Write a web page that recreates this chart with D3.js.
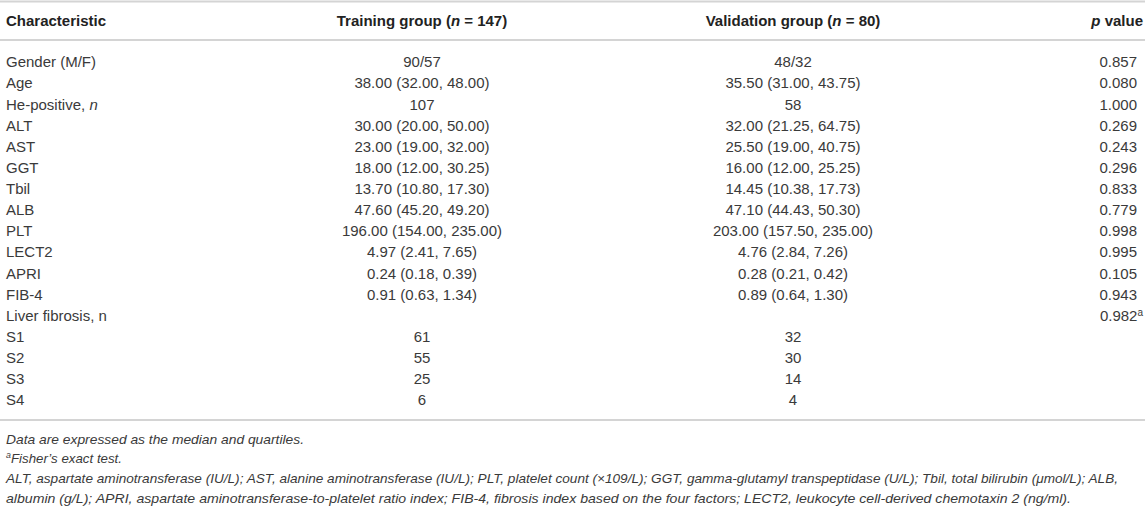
<!DOCTYPE html>
<html><head><meta charset="utf-8">
<script src="https://cdn.jsdelivr.net/npm/d3@7"></script>
<style>
html,body{margin:0;padding:0;background:#fff;}
svg text{font-family:"Liberation Sans",Arial,Helvetica,sans-serif;}
</style></head>
<body>
<svg id="t" width="1145" height="507"></svg>
<script>
const characteristics = ["Gender (M/F)","Age","He-positive, |n","ALT","AST","GGT","Tbil","ALB","PLT","LECT2","APRI","FIB-4","Liver fibrosis, n","S1","S2","S3","S4"];
const training = ["90/57","38.00 (32.00, 48.00)","107","30.00 (20.00, 50.00)","23.00 (19.00, 32.00)","18.00 (12.00, 30.25)","13.70 (10.80, 17.30)","47.60 (45.20, 49.20)","196.00 (154.00, 235.00)","4.97 (2.41, 7.65)","0.24 (0.18, 0.39)","0.91 (0.63, 1.34)","","61","55","25","6"];
const validation = ["48/32","35.50 (31.00, 43.75)","58","32.00 (21.25, 64.75)","25.50 (19.00, 40.75)","16.00 (12.00, 25.25)","14.45 (10.38, 17.73)","47.10 (44.43, 50.30)","203.00 (157.50, 235.00)","4.76 (2.84, 7.26)","0.28 (0.21, 0.42)","0.89 (0.64, 1.30)","","32","30","14","4"];
const pValues = ["0.857","0.080","1.000","0.269","0.243","0.296","0.833","0.779","0.998","0.995","0.105","0.943","0.982|a","","","",""];
const headers = ["Characteristic","Training group (|n| = 147)","Validation group (|n| = 80)","|p| value"];
const footnotes = ["Data are expressed as the median and quartiles.","|a|Fisher’s exact test.","ALT, aspartate aminotransferase (IU/L); AST, alanine aminotransferase (IU/L); PLT, platelet count (×109/L); GGT, gamma-glutamyl transpeptidase (U/L); Tbil, total bilirubin (μmol/L); ALB,","albumin (g/L); APRI, aspartate aminotransferase-to-platelet ratio index; FIB-4, fibrosis index based on the four factors; LECT2, leukocyte cell-derived chemotaxin 2 (ng/ml)."];

const svg = d3.select("#t");
const W = 1145;
const colX = [6, 422, 793, 1141];
const anchors = ["start","middle","middle","end"];
const textColor = "#3a3a3a";
const ruleColor = "#d4d4d4";
const fs = 15;

const y = d3.scalePoint().domain(d3.range(characteristics.length)).range([62, 400]);

function rule(yy){ svg.append("rect").attr("x",0).attr("y",yy-1).attr("width",W).attr("height",2).attr("fill",ruleColor); }
rule(1.5); rule(40); rule(420);

// header
headers.forEach((h,i)=>{
  const t = svg.append("text").attr("x", colX[i] + (i===3?2:0)).attr("y", 21).attr("dy","0.35em")
    .attr("text-anchor", anchors[i]).attr("font-size", fs).attr("font-weight","bold").attr("fill","#222");
  h.split("|").forEach((part,k)=>{ if(part) t.append("tspan").text(part).attr("font-style", k%2===1?"italic":"normal"); });
});

function cell(str, x, anchor, yy, italicSecond, supSecond){
  const t = svg.append("text").attr("x", x).attr("y", yy).attr("dy","0.35em")
    .attr("text-anchor", anchor).attr("font-size", fs).attr("fill", textColor);
  str.split("|").forEach((part,k)=>{
    if(!part) return;
    const sp = t.append("tspan").text(part);
    if(k===1 && italicSecond) sp.attr("font-style","italic");
    if(k===1 && supSecond) sp.attr("font-size", 10).attr("baseline-shift","super");
  });
}

characteristics.forEach((c,i)=>{
  const yy = y(i);
  cell(c, colX[0], "start", yy, true, false);
  cell(training[i], colX[1], "middle", yy);
  cell(validation[i], colX[2], "middle", yy);
  cell(pValues[i], colX[3] - (pValues[i].includes("|")? -2 : 4), "end", yy, false, true);
});

// footnotes
const fy = d3.scalePoint().domain(d3.range(footnotes.length)).range([439, 498]);
const footLen = [298, 116, 1112, 1065];
footnotes.forEach((f,i)=>{
  const t = svg.append("text").attr("x", 6).attr("y", fy(i)).attr("dy","0.35em")
    .attr("font-size", 13.5).attr("font-style","italic").attr("fill", textColor)
    .attr("textLength", footLen[i]).attr("lengthAdjust","spacingAndGlyphs");
  f.split("|").forEach((part,k)=>{
    if(!part) return;
    const sp = t.append("tspan").text(part);
    if(k===1) sp.attr("font-size", 9).attr("baseline-shift","super");
  });
});
</script>
</body></html>
